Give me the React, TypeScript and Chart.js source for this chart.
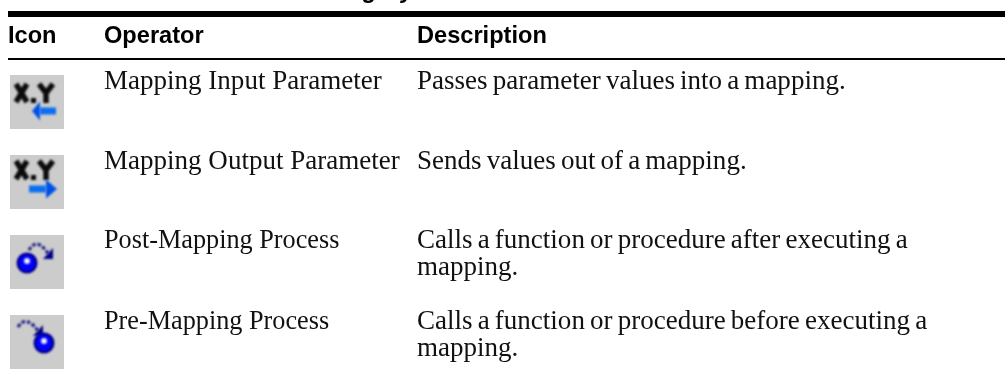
import React, { useEffect, useRef } from "react";
import { Chart, registerables } from "chart.js";

Chart.register(...registerables);

const headers = ["Icon", "Operator", "Description"];
const operators = [
  "Mapping Input Parameter",
  "Mapping Output Parameter",
  "Post-Mapping Process",
  "Pre-Mapping Process",
];
const descriptions = [
  ["Passes parameter values into a mapping."],
  ["Sends values out of a mapping."],
  ["Calls a function or procedure after executing a", "mapping."],
  ["Calls a function or procedure before executing a", "mapping."],
];
const captionFragments = ["g", "y"];

const W = 1005;
const H = 371;
const COL_X = [8, 104, 417];
const ROW_BASE = [89, 169, 248, 329];
const ROW_ICON = [102, 182, 262, 342];
const LINE_H = 27;
const BODY_FONT = '26.5px "Liberation Serif"';
const BODY_SX = 1.02;
const OPERATOR_SX = [1.02, 1.02, 0.99, 0.99];
const DESC_WORD_SPACING = "-1.6px";
const HEAD_FONT = 'bold 23.6px "Liberation Sans"';

function base() {
  const c = document.createElement("canvas");
  c.width = 54;
  c.height = 54;
  const g = c.getContext("2d")!;
  g.fillStyle = "#cccccc";
  g.fillRect(0, 0, 54, 54);
  g.filter = "blur(0.8px)";
  return { c, g };
}

function xy(g: CanvasRenderingContext2D, dy: number) {
  g.strokeStyle = "#0a0a0a";
  g.lineWidth = 5.4;
  g.lineCap = "butt";
  g.beginPath();
  g.moveTo(6, 9 + dy); g.lineTo(17, 27 + dy);
  g.moveTo(17, 9 + dy); g.lineTo(6, 27 + dy);
  g.moveTo(29, 9 + dy); g.lineTo(36, 18 + dy);
  g.moveTo(43, 9 + dy); g.lineTo(36, 18 + dy);
  g.lineTo(36, 28 + dy);
  g.stroke();
  g.fillStyle = "#0a0a0a";
  g.fillRect(21, 23 + dy, 5, 5);
}

function arrow(g: CanvasRenderingContext2D, tail: number, tip: number, neck: number, y: number) {
  g.fillStyle = "#0a6ef0";
  g.fillRect(Math.min(tail, neck), y - 3.5, Math.abs(neck - tail), 7);
  g.fillStyle = "#0050e8";
  g.beginPath();
  g.moveTo(tip, y);
  g.lineTo(neck, y - 9.5);
  g.lineTo(neck, y + 9.5);
  g.closePath();
  g.fill();
}

function ball(g: CanvasRenderingContext2D, cx: number, cy: number) {
  g.fillStyle = "#000090";
  g.beginPath();
  g.arc(cx, cy, 10.5, 0, Math.PI * 2);
  g.fill();
  g.fillStyle = "#0000ff";
  g.beginPath();
  g.arc(cx, cy, 8, 0, Math.PI * 2);
  g.fill();
  g.fillStyle = "#f0f0ff";
  g.beginPath();
  g.arc(cx, cy - 2, 3, 0, Math.PI * 2);
  g.fill();
}

function hop(g: CanvasRenderingContext2D, x0: number, y0: number, x1: number, y1: number, x2: number, y2: number) {
  g.strokeStyle = "#10107a";
  g.lineWidth = 3;
  g.setLineDash([3.5, 2]);
  g.beginPath();
  g.moveTo(x0, y0);
  g.quadraticCurveTo(x1, y1 - 7, x2, y2);
  g.stroke();
  g.setLineDash([]);
  g.fillStyle = "#000088";
  g.beginPath();
  g.moveTo(x2 + 4, y2 + 4);
  g.lineTo(x2 - 6, y2 + 4);
  g.lineTo(x2 + 4, y2 - 7);
  g.closePath();
  g.fill();
}

function makeIcons() {
  const a = base();
  xy(a.g, 0);
  arrow(a.g, 46, 22, 30, 36);
  const b = base();
  xy(b.g, -3);
  arrow(b.g, 19, 47, 36, 34);
  const c = base();
  hop(c.g, 19, 15, 27, 8, 39, 20);
  ball(c.g, 17, 28);
  const d = base();
  hop(d.g, 8, 12, 16, 6, 29, 17);
  ball(d.g, 34, 28);
  return [a.c, b.c, c.c, d.c];
}

const tablePlugin = {
  id: "tableText",
  afterDatasetsDraw(chart: any) {
    const { ctx, scales } = chart;
    const px = (v: number) => scales.x.getPixelForValue(v);
    const py = (v: number) => scales.y.getPixelForValue(v);
    ctx.save();
    ctx.textBaseline = "alphabetic";
    ctx.textAlign = "left";
    ctx.fillStyle = "#000";
    ctx.font = 'italic bold 23.6px "Liberation Sans"';
    ctx.fillText(captionFragments[0], px(363), py(-2));
    ctx.fillText(captionFragments[1], px(401), py(-2));
    ctx.font = HEAD_FONT;
    headers.forEach((t, i) => ctx.fillText(t, px(COL_X[i]), py(43)));
    ctx.fillStyle = "#111";
    ctx.font = BODY_FONT;
    const put = (t: string, x: number, y: number, sx: number) => {
      ctx.save();
      ctx.translate(px(x), py(y));
      ctx.scale(sx, 1);
      ctx.fillText(t, 0, 0);
      ctx.restore();
    };
    operators.forEach((t, i) => put(t, COL_X[1], ROW_BASE[i], OPERATOR_SX[i]));
    ctx.wordSpacing = DESC_WORD_SPACING;
    descriptions.forEach((lines, i) =>
      lines.forEach((t, j) => put(t, COL_X[2], ROW_BASE[i] + j * LINE_H, BODY_SX))
    );
    ctx.restore();
  },
};

export default function App() {
  const ref = useRef<HTMLCanvasElement | null>(null);
  useEffect(() => {
    document.body.style.margin = "0";
    const chart = new Chart(ref.current!, {
      type: "scatter",
      data: {
        datasets: [
          {
            label: "top rule",
            showLine: true,
            data: [{ x: COL_X[0], y: 14 }, { x: W, y: 14 }],
            borderColor: "#000",
            borderWidth: 6,
            pointRadius: 0,
          },
          {
            label: "header rule",
            showLine: true,
            data: [{ x: COL_X[0], y: 59 }, { x: W, y: 59 }],
            borderColor: "#000",
            borderWidth: 2,
            pointRadius: 0,
          },
          {
            label: "icons",
            data: ROW_ICON.map((y) => ({ x: 37, y })),
            pointStyle: makeIcons() as any,
            pointRadius: 27,
          },
        ],
      },
      options: {
        animation: false,
        responsive: false,
        layout: { padding: 0, autoPadding: false },
        plugins: { legend: { display: false }, tooltip: { enabled: false } },
        scales: {
          x: { type: "linear", min: 0, max: W, display: false },
          y: { type: "linear", min: 0, max: H, reverse: true, display: false },
        },
      },
      plugins: [tablePlugin],
    });
    return () => chart.destroy();
  }, []);
  return (
    <canvas
      ref={ref}
      width={W}
      height={H}
      style={{ display: "block", width: W, height: H }}
    />
  );
}
